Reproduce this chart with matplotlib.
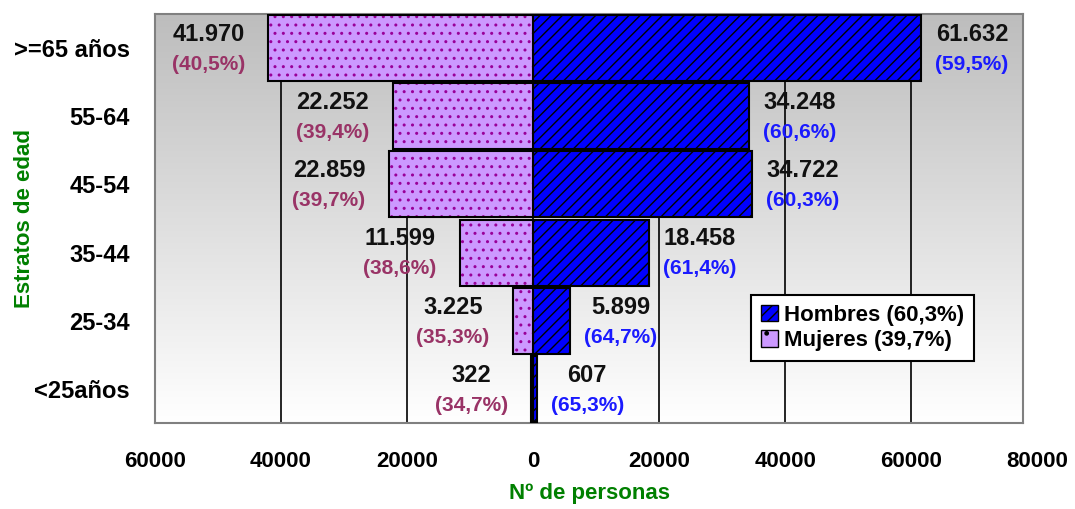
import numpy as np
import matplotlib.pyplot as plt
from matplotlib.colors import LinearSegmentedColormap
from matplotlib.patches import Patch
from matplotlib.ticker import FuncFormatter

plt.rcParams['font.family'] = ['Liberation Sans', 'DejaVu Sans']
plt.rcParams['font.weight'] = 'bold'
plt.rcParams['hatch.linewidth'] = 1.0

# datos (de arriba a abajo)
estratos = ['>=65 años', '55-64', '45-54', '35-44', '25-34', '<25años']
hombres = [61632, 34248, 34722, 18458, 5899, 607]
mujeres = [41970, 22252, 22859, 11599, 3225, 322]
pct_hombres = ['59,5%', '60,6%', '60,3%', '61,4%', '64,7%', '65,3%']
pct_mujeres = ['40,5%', '39,4%', '39,7%', '38,6%', '35,3%', '34,7%']
xticks = [-60000, -40000, -20000, 0, 20000, 40000, 60000, 80000]

def fmt(v):
    return f"{v:,}".replace(',', '.')

fig = plt.figure(figsize=(10.75, 5.09), dpi=100)
ax = fig.add_axes([0.144, 0.169, 0.808, 0.8035])

y = np.arange(len(estratos))

# fondo degradado
cmap = LinearSegmentedColormap.from_list('bg', ['#bdbdbd', '#ffffff'])
grad = np.linspace(0, 1, 256).reshape(-1, 1)
ax.imshow(grad, cmap=cmap, aspect='auto', extent=[0, 1, 0, 1],
          transform=ax.transAxes, zorder=0)

# barras
ax.barh(y, hombres, height=0.97, color='#0000ff', edgecolor='black',
        hatch='///', linewidth=1.5, zorder=3)
ax.barh(y, [-m for m in mujeres], height=0.97, color='#cc99ff',
        edgecolor='#990099', hatch='..', linewidth=0, zorder=3)
ax.barh(y, [-m for m in mujeres], height=0.97, fill=False,
        edgecolor='black', linewidth=1.5, zorder=4)

# etiquetas
for i in range(len(estratos)):
    ax.text(-mujeres[i] - 9500, y[i] - 0.2, fmt(mujeres[i]), ha='center',
            va='center', fontsize=17, color='#111111', zorder=5)
    ax.text(-mujeres[i] - 9500, y[i] + 0.24, '(' + pct_mujeres[i] + ')',
            ha='center', va='center', fontsize=15, color='#993366', zorder=5)
    ax.text(hombres[i] + 8000, y[i] - 0.2, fmt(hombres[i]), ha='center',
            va='center', fontsize=17, color='#111111', zorder=5)
    ax.text(hombres[i] + 8000, y[i] + 0.24, '(' + pct_hombres[i] + ')',
            ha='center', va='center', fontsize=15, color='#1a1aff', zorder=5)

ax.set_xlim(-60000, 77800)
ax.set_ylim(len(estratos) - 0.5, -0.5)
ax.set_xticks(xticks[:-1])
ax.xaxis.set_major_formatter(FuncFormatter(lambda v, p: f"{abs(int(v))}"))
ax.annotate(str(xticks[-1]), xy=(xticks[-1], 0), xycoords=('data', 'axes fraction'),
            xytext=(0, -20), textcoords='offset points', ha='center', va='top',
            fontsize=16, annotation_clip=False)
ax.set_yticks(y)
ax.set_yticklabels(estratos)
ax.tick_params(axis='x', length=0, pad=20, labelsize=16)
ax.tick_params(axis='y', length=0, pad=18, labelsize=17)
ax.grid(axis='x', color='black', linewidth=1.2, zorder=1)
ax.set_axisbelow(True)
for s in ax.spines.values():
    s.set_color('#808080')
    s.set_linewidth(1.5)

ax.set_xlabel('Nº de personas', color='#008000', fontsize=16,
              fontweight='bold', labelpad=8)
ax.set_ylabel('Estratos de edad', color='#008000', fontsize=16,
              fontweight='bold')
ax.yaxis.set_label_coords(-0.138, 0.5)

handles = [Patch(facecolor='#0000ff', edgecolor='black', hatch='///'),
           Patch(facecolor='#cc99ff', edgecolor='black', hatch='.')]
leg = ax.legend(handles, ['Hombres (60,3%)', 'Mujeres (39,7%)'], loc='center',
                bbox_to_anchor=(0.815, 0.232), fontsize=16, handlelength=0.75,
                handleheight=0.75, handletextpad=0.3, borderpad=0.45,
                labelspacing=0.2, fancybox=False, framealpha=1,
                edgecolor='black')
leg.get_frame().set_linewidth(1.5)
leg.set_zorder(6)

fig.savefig('out.png', dpi=100)
